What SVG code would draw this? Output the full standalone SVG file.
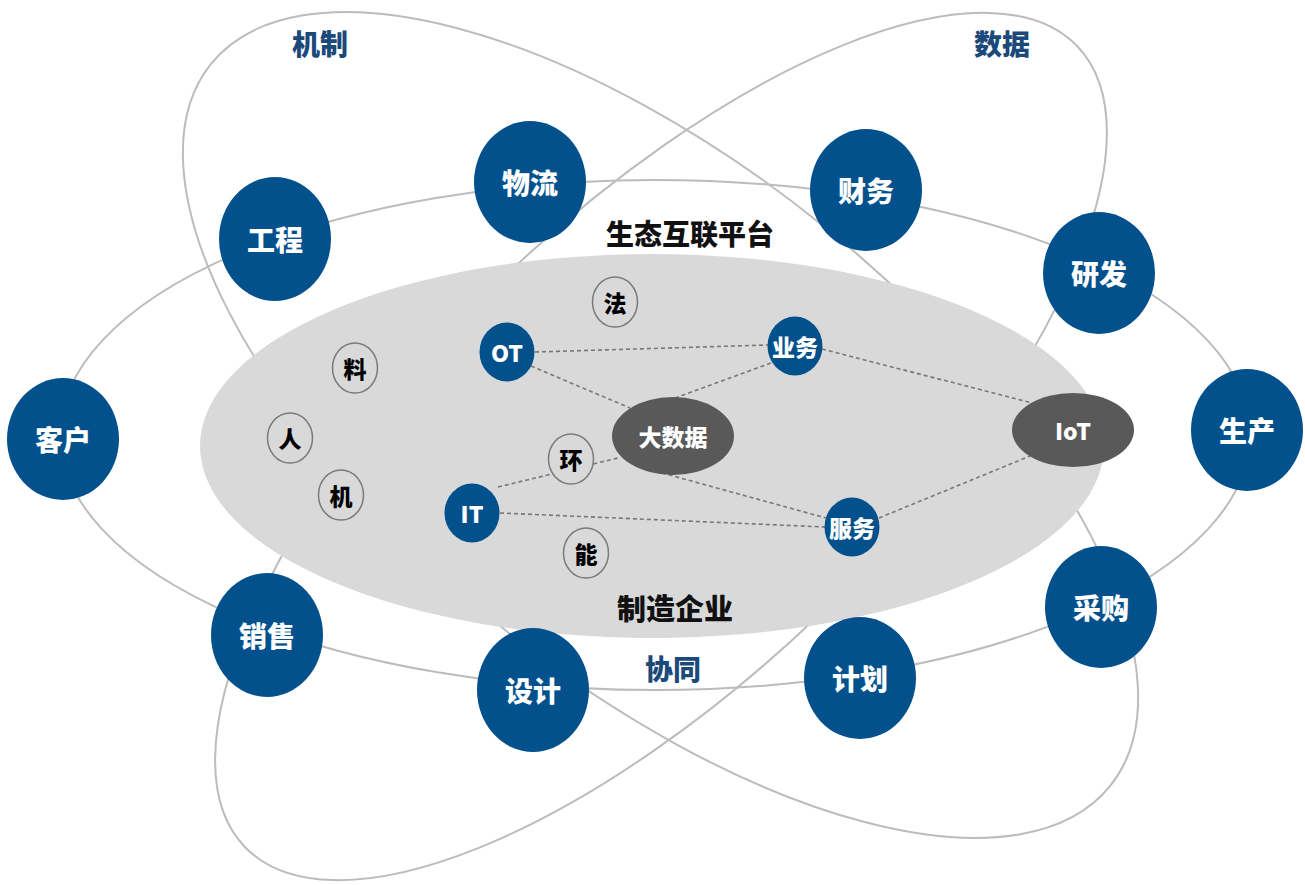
<svg xmlns="http://www.w3.org/2000/svg" width="1305" height="885" viewBox="0 0 1305 885">
<style>
.orbit{fill:none;stroke:#bcbcbc;stroke-width:2}
.node{fill:#02518d}
.nt{fill:#fff;font-family:"Noto Sans CJK SC","Noto Sans",sans-serif;font-weight:900;font-size:28px;text-anchor:middle;dominant-baseline:central}
.st{fill:#fff;font-family:"Noto Sans CJK SC","Noto Sans",sans-serif;font-weight:900;font-size:23px;text-anchor:middle;dominant-baseline:central}
.el{fill:#d9d9d9;stroke:#7a7a7a;stroke-width:1.5}
.et{fill:#000;font-family:"Noto Sans CJK SC","Noto Sans",sans-serif;font-weight:900;font-size:23px;text-anchor:middle;dominant-baseline:central}
.hub{fill:#595959}
.lbl{font-family:"Noto Sans CJK SC","Noto Sans",sans-serif;font-weight:900;text-anchor:middle;dominant-baseline:central}
.dash{stroke:#777;stroke-width:1.6;stroke-dasharray:4 3;fill:none}
</style>
<rect width="1305" height="885" fill="#fff"/>
<g id="orbits">
<ellipse class="orbit" cx="655" cy="435" rx="595" ry="255"/>
<ellipse class="orbit" cx="660.5" cy="425" rx="576.6" ry="257.2" transform="rotate(38.75 660.5 425)"/>
<ellipse class="orbit" cx="661" cy="446.5" rx="577.5" ry="231" transform="rotate(-43.9 661 446.5)"/>
</g>
<g id="platform">
<ellipse cx="652" cy="446" rx="452" ry="192" fill="#d9d9d9"/>
</g>
<g id="labels">
<text class="lbl" x="320" y="43" font-size="28" fill="#1b4a7a">机制</text>
<text class="lbl" x="1002" y="43" font-size="28" fill="#1b4a7a">数据</text>
<text class="lbl" x="690" y="233" font-size="28" fill="#111">生态互联平台</text>
<text class="lbl" x="675" y="607" font-size="29" fill="#111">制造企业</text>
<text class="lbl" x="673" y="668" font-size="28" fill="#1b4a7a">协同</text>
</g>
<g id="connectors">
<line class="dash" x1="535" y1="352" x2="768" y2="345"/>
<line class="dash" x1="531" y1="366" x2="630" y2="408"/>
<line class="dash" x1="675" y1="398" x2="771" y2="363"/>
<line class="dash" x1="822" y1="349" x2="1040" y2="405"/>
<line class="dash" x1="498" y1="487" x2="618" y2="458"/>
<line class="dash" x1="500" y1="513" x2="825" y2="527"/>
<line class="dash" x1="655" y1="471" x2="826" y2="518"/>
<line class="dash" x1="879" y1="518" x2="1030" y2="456"/>
</g>
<g id="n-kehu"><ellipse class="node" cx="63" cy="439" rx="56" ry="61"/><text class="nt" x="63" y="439">客户</text></g>
<g id="n-gongcheng"><ellipse class="node" cx="275" cy="239" rx="56" ry="62"/><text class="nt" x="275" y="239">工程</text></g>
<g id="n-wuliu"><ellipse class="node" cx="530" cy="182" rx="56" ry="61"/><text class="nt" x="530" y="182">物流</text></g>
<g id="n-caiwu"><ellipse class="node" cx="866" cy="190" rx="56" ry="61"/><text class="nt" x="866" y="190">财务</text></g>
<g id="n-yanfa"><ellipse class="node" cx="1099" cy="273" rx="56" ry="61"/><text class="nt" x="1099" y="273">研发</text></g>
<g id="n-shengchan"><ellipse class="node" cx="1247" cy="430" rx="56" ry="61"/><text class="nt" x="1247" y="430">生产</text></g>
<g id="n-caigou"><ellipse class="node" cx="1101" cy="607" rx="56" ry="61"/><text class="nt" x="1101" y="607">采购</text></g>
<g id="n-jihua"><ellipse class="node" cx="860" cy="678" rx="56" ry="61"/><text class="nt" x="860" y="678">计划</text></g>
<g id="n-sheji"><ellipse class="node" cx="533" cy="690" rx="56" ry="62"/><text class="nt" x="533" y="690">设计</text></g>
<g id="n-xiaoshou"><ellipse class="node" cx="267" cy="635" rx="56" ry="62"/><text class="nt" x="267" y="635">销售</text></g>
<g id="n-ot"><ellipse class="node" cx="507" cy="352" rx="27.5" ry="29.5"/><text class="st" x="507" y="352">OT</text></g>
<g id="n-yewu"><ellipse class="node" cx="795" cy="346" rx="27.5" ry="29.5"/><text class="st" x="795" y="346" font-size="22">业务</text></g>
<g id="n-it"><ellipse class="node" cx="472" cy="513" rx="27.5" ry="29.5"/><text class="st" x="472" y="513">IT</text></g>
<g id="n-fuwu"><ellipse class="node" cx="852" cy="527" rx="27.5" ry="29.5"/><text class="st" x="852" y="527" font-size="22">服务</text></g>
<g id="n-dashuju"><ellipse class="hub" cx="673" cy="436" rx="61" ry="39"/><text class="st" x="673" y="436" font-size="24">大数据</text></g>
<g id="n-iot"><ellipse class="hub" cx="1073" cy="430" rx="61" ry="37"/><text class="st" x="1073" y="430" font-size="24">IoT</text></g>
<g id="n-fa"><ellipse class="el" cx="615" cy="302" rx="22.5" ry="25"/><text class="et" x="615" y="302">法</text></g>
<g id="n-liao"><ellipse class="el" cx="355" cy="368" rx="22.5" ry="25"/><text class="et" x="355" y="368">料</text></g>
<g id="n-ren"><ellipse class="el" cx="290" cy="438" rx="22.5" ry="25"/><text class="et" x="290" y="438">人</text></g>
<g id="n-ji"><ellipse class="el" cx="341" cy="495" rx="22.5" ry="25"/><text class="et" x="341" y="495">机</text></g>
<g id="n-huan"><ellipse class="el" cx="571" cy="459" rx="22.5" ry="25"/><text class="et" x="571" y="459">环</text></g>
<g id="n-neng"><ellipse class="el" cx="586" cy="553" rx="22.5" ry="25"/><text class="et" x="586" y="553">能</text></g>
</svg>
